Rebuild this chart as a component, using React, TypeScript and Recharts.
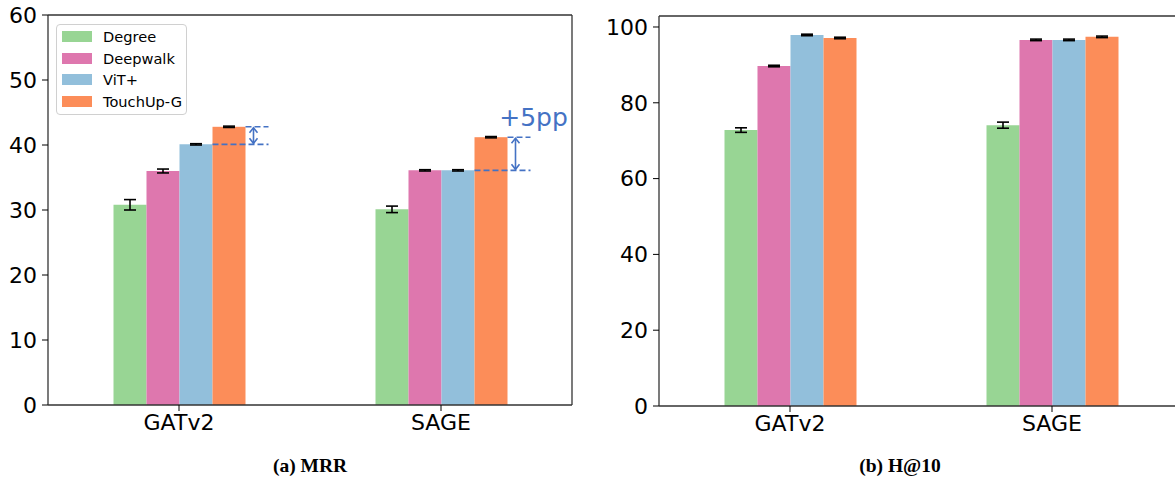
import { Bar, BarChart, CartesianGrid, ErrorBar, Legend, XAxis, YAxis } from "recharts";

const categories = ["GATv2", "SAGE"];
const seriesNames = ["Degree", "Deepwalk", "ViT+", "TouchUp-G"];
const seriesColors = ["#98d594", "#de77ae", "#92bfdb", "#fc8d59"];

// (a) MRR
const mrrDegree = [30.8, 30.1];
const mrrDegreeErr = [0.8, 0.5];
const mrrDeepwalk = [36.0, 36.1];
const mrrDeepwalkErr = [0.3, 0.1];
const mrrVit = [40.1, 36.1];
const mrrVitErr = [0.1, 0.1];
const mrrTouchup = [42.8, 41.2];
const mrrTouchupErr = [0.1, 0.1];
const mrrBest = [40.1, 36.1]; // best baseline, start of the gap arrow
const mrrGapText = ["", "+5pp"];
const mrrTicks = [0, 10, 20, 30, 40, 50, 60];

// (b) H@10
const hitsDegree = [72.8, 74.1];
const hitsDegreeErr = [0.6, 0.8];
const hitsDeepwalk = [89.7, 96.6];
const hitsDeepwalkErr = [0.2, 0.2];
const hitsVit = [97.9, 96.6];
const hitsVitErr = [0.2, 0.2];
const hitsTouchup = [97.1, 97.4];
const hitsTouchupErr = [0.2, 0.2];
const hitsTicks = [0, 20, 40, 60, 80, 100];

const mrrData = categories.map((name, i) => ({
  name,
  s0: mrrDegree[i], e0: mrrDegreeErr[i],
  s1: mrrDeepwalk[i], e1: mrrDeepwalkErr[i],
  s2: mrrVit[i], e2: mrrVitErr[i],
  s3: mrrTouchup[i], e3: mrrTouchupErr[i],
  best: mrrBest[i],
  gap: mrrGapText[i],
}));

const hitsData = categories.map((name, i) => ({
  name,
  s0: hitsDegree[i], e0: hitsDegreeErr[i],
  s1: hitsDeepwalk[i], e1: hitsDeepwalkErr[i],
  s2: hitsVit[i], e2: hitsVitErr[i],
  s3: hitsTouchup[i], e3: hitsTouchupErr[i],
}));

const SPINE = "#333";
const ANNOT = "#4472c4";
const tickStyle = { fill: "#000", fontSize: 22, fontFamily: "DejaVu Sans" };

// orange bar + dashed gap marker drawn from the bar's own geometry
function GapBar(props: any) {
  const { x, y, width, height, fill, payload } = props;
  const bottom = y + height;
  const perUnit = height / payload.s3;
  const yLow = bottom - payload.best * perUnit;
  const right = x + width;
  const end = right + 23;
  const ax = right + 8;
  const h = 5;
  return (
    <g>
      <rect x={x} y={y} width={width} height={height} fill={fill} />
      <line x1={x} y1={yLow} x2={end} y2={yLow} stroke={ANNOT} strokeWidth={1.6} strokeDasharray="6 3" />
      <line x1={right} y1={y} x2={end} y2={y} stroke={ANNOT} strokeWidth={1.6} strokeDasharray="6 3" />
      <line x1={ax} y1={y + 1} x2={ax} y2={yLow - 1} stroke={ANNOT} strokeWidth={1.6} />
      <path d={`M${ax - 4},${y + 1 + h} L${ax},${y + 1} L${ax + 4},${y + 1 + h}`} fill="none" stroke={ANNOT} strokeWidth={1.6} />
      <path d={`M${ax - 4},${yLow - 1 - h} L${ax},${yLow - 1} L${ax + 4},${yLow - 1 - h}`} fill="none" stroke={ANNOT} strokeWidth={1.6} />
      {payload.gap ? (
        <text x={ax + 18} y={y - 11} textAnchor="middle" fill={ANNOT} fontSize={25} fontFamily="DejaVu Sans">
          {payload.gap}
        </text>
      ) : null}
    </g>
  );
}

function LegendBox() {
  return (
    <div
      style={{
        border: "1px solid #d0d0d0",
        borderRadius: 4,
        background: "rgba(255,255,255,0.8)",
        padding: "1px 4px 2px 5px",
        fontFamily: "DejaVu Sans",
        fontSize: 14.6,
        color: "#000",
        boxSizing: "border-box",
        whiteSpace: "nowrap",
      }}
    >
      {seriesNames.map((n, i) => (
        <div key={n} style={{ display: "flex", alignItems: "center", height: 21.5 }}>
          <span style={{ width: 30, height: 11, background: seriesColors[i], marginRight: 11, display: "inline-block", flex: "none" }} />
          {n}
        </div>
      ))}
    </div>
  );
}

function Panel(props: {
  data: any[];
  ticks: number[];
  max: number;
  yWidth: number;
  top: number;
  right: number;
  bottom: number;
  annotate?: boolean;
  legend?: boolean;
}) {
  const { data, ticks, max, yWidth, top, right, bottom, annotate, legend } = props;
  return (
    <BarChart
      width={600}
      height={481}
      data={data}
      margin={{ top, right, bottom, left: 0 }}
      barCategoryGap="25%"
      barGap={0}
    >
      {/* top and right spines of the box */}
      <CartesianGrid
        stroke={SPINE}
        strokeWidth={1.3}
        fill="none"
        horizontalCoordinatesGenerator={({ offset }: any) => [offset.top]}
        verticalCoordinatesGenerator={({ offset }: any) => [offset.left + offset.width]}
      />
      <XAxis
        dataKey="name"
        height={30}
        tick={tickStyle}
        tickSize={6}
        tickMargin={3}
        axisLine={{ stroke: SPINE, strokeWidth: 1.3 }}
        tickLine={{ stroke: "#000" }}
      />
      <YAxis
        width={yWidth}
        domain={[0, max]}
        ticks={ticks}
        tick={tickStyle}
        tickSize={6}
        tickMargin={5}
        axisLine={{ stroke: SPINE, strokeWidth: 1.3 }}
        tickLine={{ stroke: "#000" }}
        allowDataOverflow
      />
      {legend ? (
        <Legend
          layout="vertical"
          verticalAlign="middle"
          align="center"
          content={() => <LegendBox />}
          wrapperStyle={{ left: 56, top: 24, width: 131, height: "auto", right: "auto", bottom: "auto" }}
        />
      ) : null}
      {seriesNames.map((n, i) => (
        <Bar
          key={n}
          dataKey={`s${i}`}
          name={n}
          fill={seriesColors[i]}
          isAnimationActive={false}
          shape={annotate && i === 3 ? GapBar : undefined}
        >
          <ErrorBar dataKey={`e${i}`} width={6} stroke="#000" strokeWidth={1.6} direction="y" />
        </Bar>
      ))}
    </BarChart>
  );
}

const captionStyle: any = {
  position: "absolute",
  top: 455,
  width: 200,
  textAlign: "center",
  fontFamily: "Liberation Serif",
  fontWeight: "bold",
  fontSize: 19.5,
  lineHeight: "22px",
  color: "#000",
};

export default function App() {
  return (
    <div style={{ position: "fixed", left: 0, top: 0, width: 1175, height: 481, overflow: "hidden", background: "#fff" }}>
      <div style={{ position: "absolute", left: 0, top: 0 }}>
        <Panel data={mrrData} ticks={mrrTicks} max={60} yWidth={48} top={15} right={28} bottom={46} annotate legend />
      </div>
      <div style={{ position: "absolute", left: 600, top: 0 }}>
        <Panel data={hitsData} ticks={hitsTicks} max={102.9} yWidth={59} top={16} right={17} bottom={45} />
      </div>
      <div style={{ ...captionStyle, left: 210 }}>(a) MRR</div>
      <div style={{ ...captionStyle, left: 800 }}>(b) H@10</div>
    </div>
  );
}
